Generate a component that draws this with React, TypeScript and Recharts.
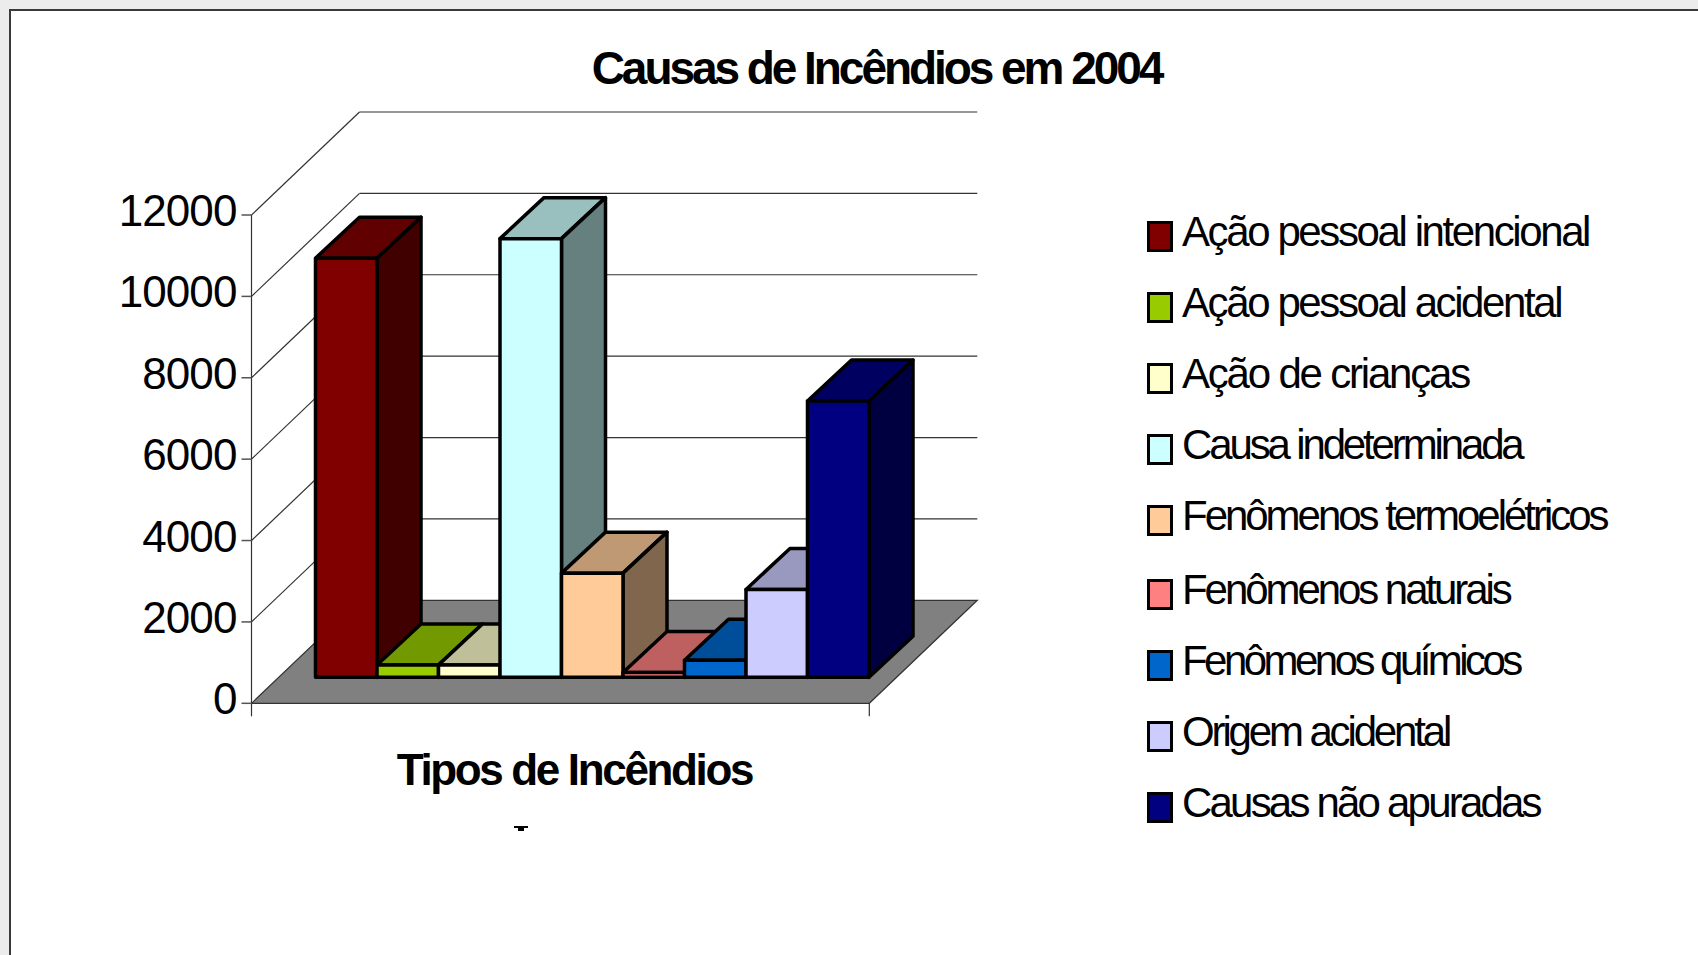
import { BarChart, Bar, XAxis, YAxis, CartesianGrid, Legend } from "recharts";

const SERIES_NAMES = [
  "Ação pessoal intencional",
  "Ação pessoal acidental",
  "Ação de crianças",
  "Causa indeterminada",
  "Fenômenos termoelétricos",
  "Fenômenos naturais",
  "Fenômenos químicos",
  "Origem acidental",
  "Causas não apuradas",
];
const SERIES_VALUES = [10300, 300, 300, 10780, 2560, 120, 420, 2160, 6790];
const SERIES_COLORS = [
  "#800000", "#99cc00", "#ffffcc", "#ccffff", "#ffcc99",
  "#ff8080", "#0066cc", "#ccccff", "#000080",
];
const Y_TICKS = [0, 2000, 4000, 6000, 8000, 10000, 12000];

const TITLE = "Causas de Incêndios em 2004";
const X_TITLE = "Tipos de Incêndios";

const row: Record<string, string | number> = { name: "2004" };
SERIES_VALUES.forEach((v, i) => {
  row[`s${i}`] = v;
});
const chartData = [row];

const FONT = "'Liberation Sans', Arial, sans-serif";
const PLOT_BOTTOM = 703.3;
// wall depth of the fake 3D box
const WALL_DX = 108;
const WALL_DY = 103;
// bars stand a bit inside the floor
const BAR_SHIFT_X = 27;
const BAR_SHIFT_Y = 26;
const BAR_DX = 44;
const BAR_DY = 41;
// the original's legend text is squeezed unevenly
const LEGEND_SPACING = [-2.4, -2.4, -2.2, -3.14, -3.03, -3.06, -3.54, -3.14, -2.8];

function shade(hex: string, f: number) {
  const n = parseInt(hex.slice(1), 16);
  const c = [(n >> 16) & 255, (n >> 8) & 255, n & 255].map((v) => Math.round(v * f));
  return `rgb(${c[0]},${c[1]},${c[2]})`;
}

function Bar3D(props: any) {
  const { x, y, width, height, fill } = props;
  const l = x + BAR_SHIFT_X;
  const t = y - BAR_SHIFT_Y;
  const r = l + width + 0.5;
  const b = t + height;
  const line = { stroke: "#000", strokeWidth: 3.5, strokeLinejoin: "round" as const };
  return (
    <g>
      <polygon
        points={`${l},${t} ${l + BAR_DX},${t - BAR_DY} ${r + BAR_DX},${t - BAR_DY} ${r},${t}`}
        fill={shade(fill, 0.75)}
        {...line}
      />
      <polygon
        points={`${r},${t} ${r + BAR_DX},${t - BAR_DY} ${r + BAR_DX},${b - BAR_DY} ${r},${b}`}
        fill={shade(fill, 0.5)}
        {...line}
      />
      <rect x={l} y={t} width={r - l} height={b - t} fill={fill} {...line} />
    </g>
  );
}

// every horizontal grid line becomes: side wall diagonal + back wall line
function WallLine(props: any) {
  const { x1, x2, y1, index } = props;
  const isFloor = y1 > PLOT_BOTTOM - 1;
  const stroke = "#333";
  return (
    <g key={`wall-${index}`}>
      {isFloor && (
        <>
          <polygon
            points={`${x1},${y1} ${x2},${y1} ${x2 + WALL_DX},${y1 - WALL_DY} ${x1 + WALL_DX},${y1 - WALL_DY}`}
            fill="#808080"
            stroke={stroke}
            strokeWidth={1.2}
          />
          <line x1={x1} y1={y1} x2={x1} y2={y1 + 13} stroke={stroke} strokeWidth={1.2} />
          <line x1={x2} y1={y1} x2={x2} y2={y1 + 13} stroke={stroke} strokeWidth={1.2} />
        </>
      )}
      {!isFloor && (
        <>
          <line x1={x1} y1={y1} x2={x1 + WALL_DX} y2={y1 - WALL_DY} stroke={stroke} strokeWidth={1.2} />
          <line x1={x1 + WALL_DX} y1={y1 - WALL_DY} x2={x2 + WALL_DX} y2={y1 - WALL_DY} stroke={stroke} strokeWidth={1.2} />
        </>
      )}
    </g>
  );
}

function YTick({ x, y, payload }: any) {
  return (
    <text
      x={x}
      y={y + 11}
      textAnchor="end"
      fontFamily={FONT}
      fontSize={44}
      letterSpacing={-0.9}
      fill="#000"
    >
      {payload.value}
    </text>
  );
}

function LegendBox({ payload }: any) {
  return (
    <div style={{ position: "relative", width: 0, height: 0 }}>
      {(payload || []).map((item: any, i: number) => {
        const top = 220.7 + i * 71 + (i >= 5 ? 3 : 0);
        return (
          <div key={item.value}>
            <div
              style={{
                position: "absolute",
                left: 1147,
                top,
                width: 26,
                height: 31,
                boxSizing: "border-box",
                border: "3px solid #000",
                background: item.color,
              }}
            />
            <div
              style={{
                position: "absolute",
                left: 1182,
                top: top - 14,
                whiteSpace: "nowrap",
                fontFamily: FONT,
                fontSize: 42,
                lineHeight: "50px",
                letterSpacing: LEGEND_SPACING[i],
                color: "#000",
              }}
            >
              {item.value}
            </div>
          </div>
        );
      })}
    </div>
  );
}

export default function App() {
  return (
    <div
      style={{
        position: "absolute",
        left: 0,
        top: 0,
        width: 1698,
        height: 955,
        overflow: "hidden",
        background: "#ececec",
      }}
    >
      <div
        style={{
          position: "absolute",
          left: 9,
          top: 9,
          width: 1689,
          height: 946,
          boxSizing: "border-box",
          background: "#fff",
          borderLeft: "2px solid #3a3a3a",
          borderTop: "2px solid #3a3a3a",
        }}
      />
      <div
        style={{
          position: "absolute",
          left: 0,
          width: 1753,
          top: 41,
          textAlign: "center",
          fontFamily: FONT,
          fontWeight: "bold",
          fontSize: 46,
          lineHeight: "54px",
          letterSpacing: -3.05,
          color: "#000",
        }}
      >
        {TITLE}
      </div>
      {/* clipped remnant under the axis title */}
      <div style={{ position: "absolute", left: 514, top: 826, width: 14, height: 1.5, background: "#000" }} />
      <div style={{ position: "absolute", left: 518, top: 827, width: 6, height: 4, background: "#000" }} />
      <div style={{ position: "absolute", left: 0, top: 0 }}>
        <BarChart
          width={1698}
          height={955}
          data={chartData}
          margin={{ top: 215, left: 191.5, right: 828.7, bottom: 221.7 }}
          barCategoryGap={27}
          barGap={0.5}
        >
          <CartesianGrid vertical={false} horizontal={WallLine} />
          <XAxis
            dataKey="name"
            padding={{ left: 10, right: 0 }}
            tick={false}
            tickLine={false}
            axisLine={false}
            label={{
              value: X_TITLE,
              position: "insideBottom",
              offset: -52,
              dx: 14,
              style: {
                fontFamily: FONT,
                fontWeight: "bold",
                fontSize: 44,
                letterSpacing: -2.35,
                fill: "#000",
              },
            }}
          />
          <YAxis
            domain={[0, 12000]}
            ticks={Y_TICKS}
            interval={0}
            tick={YTick}
            tickSize={10}
            tickMargin={5}
            width={60}
            axisLine={{ stroke: "#333", strokeWidth: 1.2 }}
            tickLine={{ stroke: "#555", strokeWidth: 1.5 }}
          />
          <Legend
            layout="vertical"
            align="center"
            verticalAlign="middle"
            content={LegendBox}
            itemSorter={null}
            wrapperStyle={{ left: 0, top: 0, width: 0, height: 0 }}
          />
          {SERIES_NAMES.map((name, i) => (
            <Bar
              key={name}
              dataKey={`s${i}`}
              name={name}
              fill={SERIES_COLORS[i]}
              shape={Bar3D}
              isAnimationActive={false}
            />
          ))}
        </BarChart>
      </div>
    </div>
  );
}
